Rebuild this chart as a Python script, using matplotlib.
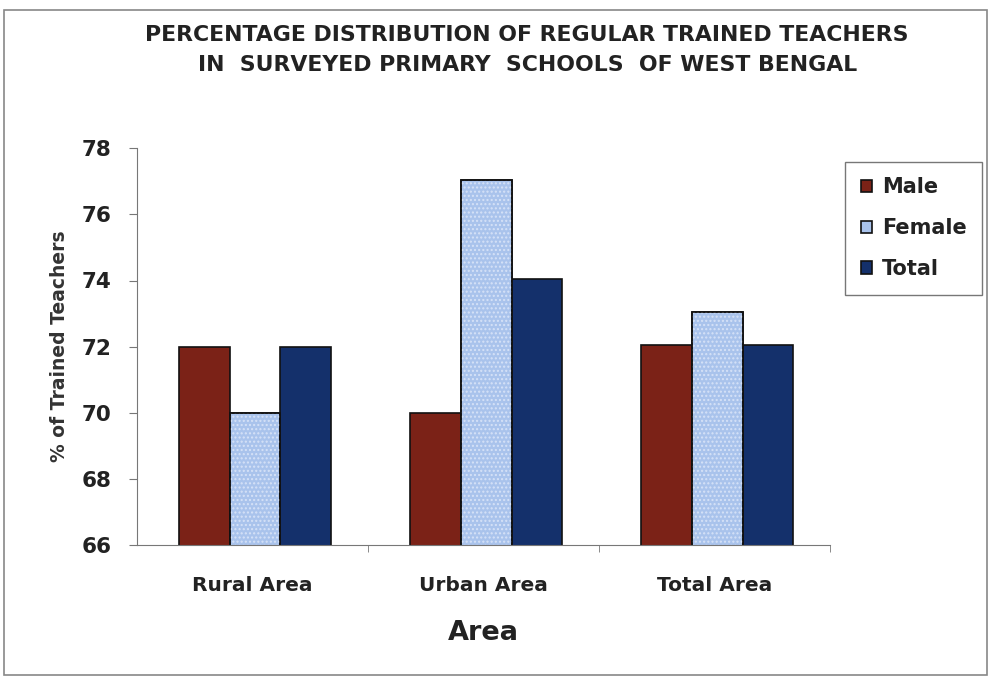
import numpy as np
import matplotlib.pyplot as plt
from matplotlib.patches import Rectangle

plt.rcParams['font.family'] = ['DejaVu Sans']
plt.rcParams['hatch.linewidth'] = 1.0

areas = ['Rural Area', 'Urban Area', 'Total Area']
series = ['Male', 'Female', 'Total']
male = [72, 70, 72.05]
female = [70, 77.05, 73.05]
total = [72, 74.05, 72.05]
colors = ['#7b2217', '#a9c3ec', '#14306b']

fig = plt.figure(figsize=(9.91, 6.8), dpi=100)
ax = fig.add_axes([0.138, 0.1985, 0.6995, 0.5835])

x = np.arange(len(areas))
w = 0.22
for i, (vals, name) in enumerate(zip([male, female, total], series)):
    ax.bar(x + (i - 1) * w + 0.012, vals, width=w, color=colors[i], edgecolor='#111111',
           linewidth=1.2, label=name)
# stipple on the light bars
ax.bar(x + 0.012, female, width=w, fill=False, hatch='....', edgecolor='#d6e2f7',
       linewidth=0)
ax.bar(x + 0.012, female, width=w, fill=False, edgecolor='#111111', linewidth=1.2)

ax.set_xlim(-0.5, 2.5)
ax.set_ylim(66, 78)
ax.set_yticks(range(66, 79, 2))
ax.set_xticks(x)
ax.set_xticklabels(areas, fontsize=14.5, fontweight='bold', color='#222222')
ax.set_xticks([0.5, 1.5, 2.5], minor=True)
ax.tick_params(axis='x', which='major', length=0, pad=22)
ax.tick_params(axis='x', which='minor', length=5, color='#777777')
ax.tick_params(axis='y', length=6, color='#777777', labelsize=15.5, pad=12)
for lb in ax.get_yticklabels():
    lb.set_fontweight('bold')
    lb.set_color('#222222')
for s in ['top', 'right']:
    ax.spines[s].set_visible(False)
for s in ['left', 'bottom']:
    ax.spines[s].set_color('#777777')

ax.set_ylabel('% of Trained Teachers', fontsize=13.5, fontweight='bold', color='#333333')
ax.yaxis.set_label_coords(-0.098, 0.5)
ax.set_xlabel('Area', fontsize=19.5, fontweight='bold', color='#222222', labelpad=18)

fig.text(0.532, 0.948, 'PERCENTAGE DISTRIBUTION OF REGULAR TRAINED TEACHERS',
         ha='center', va='center', fontsize=15.8, fontweight='bold', color='#222222')
fig.text(0.532, 0.905, 'IN  SURVEYED PRIMARY  SCHOOLS  OF WEST BENGAL',
         ha='center', va='center', fontsize=15.8, fontweight='bold', color='#222222')

leg = fig.legend(*ax.get_legend_handles_labels(), loc='upper left',
                 bbox_to_anchor=(0.853, 0.762), borderaxespad=0, frameon=True,
                 fancybox=False, edgecolor='#555555',
                 prop={'weight': 'bold', 'size': 15},
                 handlelength=0.55, handleheight=0.55, handletextpad=0.45,
                 labelspacing=1.0, borderpad=0.75)
leg.get_frame().set_linewidth(1.0)
for t in leg.get_texts():
    t.set_color('#222222')

fig.patches.append(Rectangle((0.004, 0.008), 0.992, 0.978, transform=fig.transFigure,
                             fill=False, edgecolor='#888888', linewidth=1.2))

fig.savefig('out.png', dpi=100)
